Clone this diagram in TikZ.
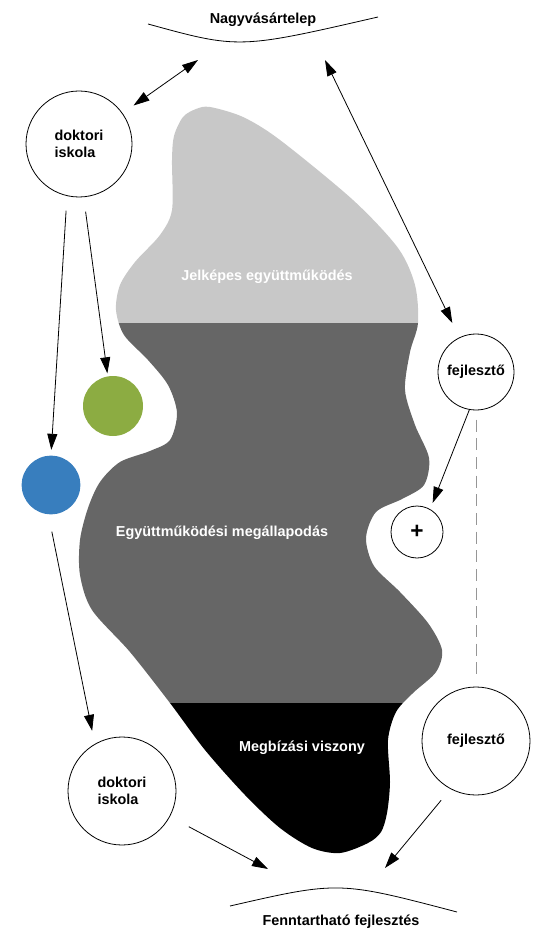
\documentclass[tikz,border=0pt]{standalone}
\usepackage{fontspec}
\setmainfont{Liberation Sans}
\usetikzlibrary{arrows.meta}
\tikzset{every picture/.style={line width=0.75pt}}
\definecolor{jelgrey}{RGB}{200,200,200}
\definecolor{egygrey}{RGB}{102,102,102}
\definecolor{zold}{RGB}{140,172,66}
\definecolor{kek}{RGB}{56,126,190}
\definecolor{dashgrey}{RGB}{150,150,150}
\newcommand\labfont{\fontsize{10.8}{12.5}\selectfont\bfseries}
\tikzset{
  bub/.style={circle, draw, line width=0.6pt, inner sep=0pt, align=left, font=\labfont},
  dot/.style={circle, inner sep=0pt},
  arr/.style={line width=0.6pt, -{Triangle[length=12pt,width=7.5pt]}},
  dbl/.style={line width=0.6pt, {Triangle[length=12pt,width=7.5pt]}-{Triangle[length=12pt,width=7.5pt]}},
  inlab/.style={font=\labfont, text=white, inner sep=0.75pt},
}
\begin{document}
\begin{tikzpicture}[x=0.75pt,y=0.75pt,yscale=-1,xscale=1]
\useasboundingbox (0,0) rectangle (534,937);

%Shape: Blob, three bands
\begin{scope}
\clip plot[smooth cycle] coordinates {(183,117) (196,109) (210,107) (243,117) (280,140) (353,200) (398,248) (415,285) (418,323)
  (410,352) (405,390) (415,425) (429,458) (424,485) (402,499) (376,512) (366,538) (374,566) (400,592) (428,623)
  (442,650) (436,672) (413,693) (396,712) (388,740) (390,782) (387,813) (381,832) (368,843) (340,853)
  (312,848) (280,828) (245,795) (205,750) (170,703) (130,652) (92,610) (80,575) (80,540) (88,508) (100,482)
  (120,462) (150,451) (170,440) (177,413) (168,385) (148,360) (124,335) (116,310) (120,285) (135,262)
  (160,235) (172,210) (172,160) (174,136)};
\fill[jelgrey] (0,0) rectangle (534,323);
\fill[egygrey] (0,323) rectangle (534,703);
\fill[black] (0,703) rectangle (534,937);
\end{scope}

%Curve Lines: top and bottom arcs
\draw[line width=0.6pt] (148,24) .. controls (239,49) .. (378,17);
\draw[line width=0.6pt] (230,906) .. controls (339,881) .. (457,912);

%Shape: Circles
\node[bub, minimum size=79.5pt] (dok1) at (79,144) {doktori\\iskola};
\node[bub, minimum size=57pt] (fej1) at (476,372) {fejlesztő};
\node[bub, minimum size=39pt, font=\fontsize{17}{17}\selectfont\bfseries] (plus) at (417,532) {+};
\node[bub, minimum size=81pt] (fej2) at (476,741) {fejlesztő};
\node[bub, minimum size=81pt] (dok2) at (122,791) {doktori\\iskola};
\node[dot, fill=zold, minimum size=45pt] (green) at (113,406) {};
\node[dot, fill=kek, minimum size=44pt] (blue) at (51,485) {};

% Text Node
\node[font=\labfont] (nagy) at (263,20) {Nagyvásártelep};
% Text Node
\node[font=\labfont] (fennt) at (341,922) {Fenntartható fejlesztés};
% Text Node
\node[inlab] (jel) at (267,277) {Jelképes együttműködés};
% Text Node
\node[inlab] (egy) at (222,533) {Együttműködési megállapodás};
% Text Node
\node[inlab] (megb) at (302,748) {Megbízási viszony};

%Straight Lines: free ends at the arcs
\coordinate (nv-l) at (198,60);
\coordinate (nv-r) at (325,60);
\coordinate (ff-l) at (268,869);
\coordinate (ff-r) at (385,868);

%Straight Lines
\draw[dbl, shorten <=10pt] (dok1) -- (nv-l);
\draw[dbl, shorten >=12pt] (nv-r) -- (fej1);
\draw[arr, shorten >=5pt] (fej1.-100) -- (plus.60);
\draw[arr, shorten <=11pt, shorten >=4pt] (dok1.-103) -- (blue.north);
\draw[arr, shorten <=11pt, shorten >=2pt] (dok1.-85) -- (green.100);
\draw[arr, shorten <=13pt, shorten >=10pt] (blue.-95) -- (dok2.120);
\draw[arr, shorten <=16pt] (dok2) -- (ff-l);
\draw[arr, shorten <=11pt] (fej2.-118) -- (ff-r);
\draw[draw=dashgrey, line width=0.6pt, dash pattern=on 9pt off 5pt, shorten <=7pt, shorten >=7pt] (fej1.south) -- (fej2.north);

\end{tikzpicture}
\end{document}
